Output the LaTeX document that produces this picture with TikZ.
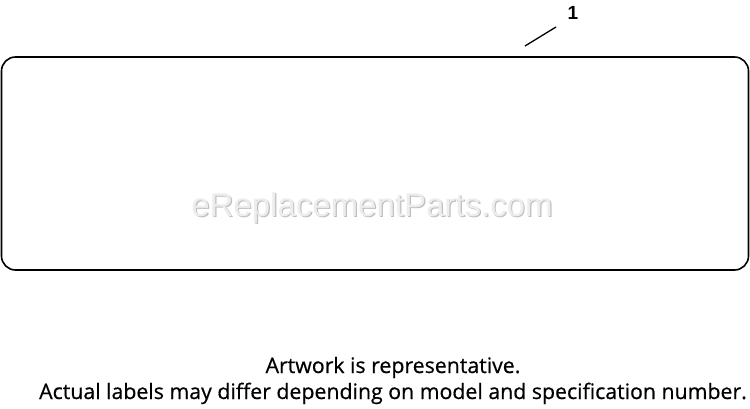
\documentclass[tikz,border=0pt]{standalone}
\usepackage{fontspec}
\setmainfont{Open Sans}
\newfontfamily\notefont{Open Sans}[BoldFont={Open Sans}, BoldFeatures={FakeBold=0.6}]
\newfontfamily\wmfont{Liberation Sans}
\newfontfamily\numfont{Liberation Sans}
\tikzset{
  partbox/.style={draw=black, line width=1.6pt, rounded corners=14pt, inner sep=0pt},
  leader/.style={draw=black, line width=1.3pt},
  callout/.style={font=\numfont\bfseries\fontsize{19}{19}\selectfont, inner sep=0pt},
  note/.style={font=\notefont\bfseries\fontsize{21.3}{21.3}\selectfont, anchor=base, inner sep=0pt},
  watermark/.style={font=\wmfont\fontsize{33}{33}\selectfont, inner sep=0pt}
}
\begin{document}
\begin{tikzpicture}[x=1pt,y=-1pt]
\useasboundingbox (0,0) rectangle (750,409);
\node[partbox, minimum width=747pt, minimum height=213pt] (decal) at (375,163.5) {};
\node[watermark, text=black!25] (wmshadow) at (373.2,209.2) {eReplacementParts.com};
\node[watermark, text=black!7] (wm) at (372,208) {eReplacementParts.com};
\node[callout] (n1) at (573,13) {1};
\coordinate (lstart) at (525,46);
\coordinate (lend) at (556,27);
\draw[leader] (lstart) -- (lend);
\node[note] (txt1) at (393,373) {Artwork is representative.};
\node[note] (txt2) at (393,399) {Actual labels may differ depending on model and specification number.};
\end{tikzpicture}
\end{document}
